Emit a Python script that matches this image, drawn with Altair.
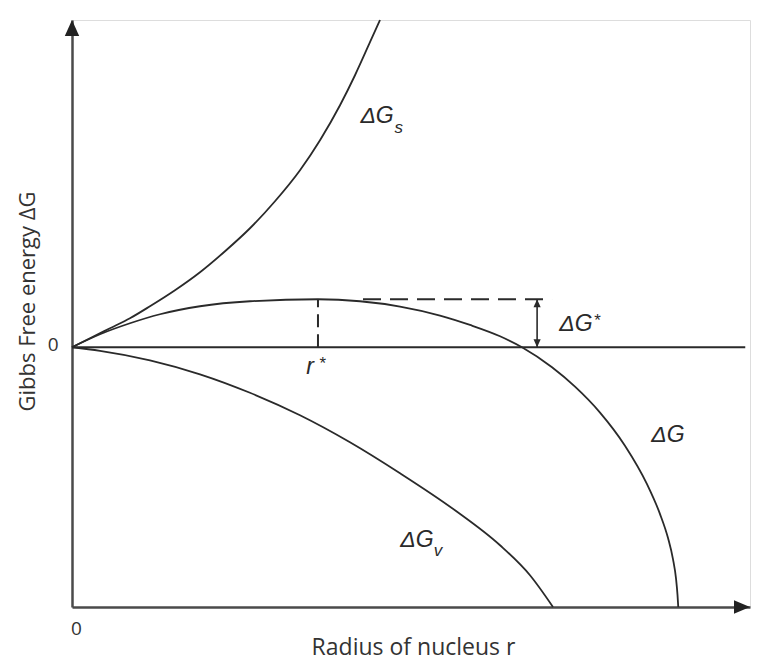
import altair as alt
import pandas as pd

# Radius of nucleus (arbitrary units) and free-energy values of each curve
gs_r = [0, 0.265, 0.560, 0.855, 1.150, 1.519, 1.888, 2.257, 2.625, 2.994, 3.363, 3.658, 3.953, 4.174, 4.395, 4.543]
gs_g = [0, 0.347, 0.732, 1.117, 1.579, 2.195, 2.888, 3.697, 4.582, 5.622, 6.816, 7.971, 9.318, 10.473, 11.744, 12.60]

g_r = [0, 0.413, 0.855, 1.298, 1.888, 2.625, 3.628, 4.248, 4.838, 5.428, 5.870, 6.313, 6.637,
       7.080, 7.419, 7.788, 8.156, 8.481, 8.673, 8.791, 8.864, 8.909, 8.931, 8.942]
g_g = [0, 0.501, 0.924, 1.271, 1.579, 1.771, 1.848, 1.771, 1.567, 1.221, 0.859, 0.424, 0,
       -0.770, -1.517, -2.514, -3.789, -5.271, -6.423, -7.347, -8.155, -8.906, -9.542, -10.0]

gv_r = [0, 0.413, 1.150, 1.888, 2.625, 3.363, 4.100, 4.838, 5.649, 6.313, 6.755, 7.094]
gv_g = [0, -0.135, -0.501, -1.040, -1.752, -2.618, -3.658, -4.851, -6.276, -7.624, -8.779, -10.0]

# critical radius and barrier height (maximum of the ΔG curve)
R_STAR = 3.628
G_STAR = 1.848

R_MAX = 10.0
G_MIN, G_MAX = -10.0, 12.6
ZERO_LINE_END = 9.93
BARRIER_LINE = [4.292, 7.08]
BARRIER_ARROW_R = 6.86

# annotation labels
lab_text = ["ΔG", "ΔG", "r", "ΔG", "ΔG"]
lab_r = [4.499, 7.434, 3.510, 8.791, 5.088]
lab_g = [8.895, 0.886, -0.770, -3.388, -7.431]
sub_text = ["s", "*", "*", "v"]
sub_r = [4.82, 7.740, 3.690, 5.400]
sub_g = [8.45, 1.02, -0.66, -7.85]

INK = "#2a2a2a"
AXIS_INK = "#4a4a4a"

curves = pd.concat([
    pd.DataFrame({"r": gs_r, "g": gs_g, "curve": "Gs", "i": range(len(gs_r))}),
    pd.DataFrame({"r": g_r, "g": g_g, "curve": "G", "i": range(len(g_r))}),
    pd.DataFrame({"r": gv_r, "g": gv_g, "curve": "Gv", "i": range(len(gv_r))}),
])

xscale = alt.Scale(domain=[0, R_MAX], nice=False, zero=False)
yscale = alt.Scale(domain=[G_MIN, G_MAX], nice=False, zero=False)

xaxis = alt.Axis(values=[0], format="d", ticks=False, grid=False,
                 domainColor=AXIS_INK, domainWidth=2.5,
                 labelFont="Open Sans", labelFontSize=19, labelColor="#333",
                 labelPadding=12, labelOffset=4, labelFlush=False,
                 titleFont="Open Sans", titleFontSize=23, titleFontWeight="normal",
                 titleColor="#333", titleX=341, titleY=47,
                 titleAlign="center", titleBaseline="alphabetic")
yaxis = alt.Axis(values=[0], format="d", ticks=False, grid=False,
                 domainColor=AXIS_INK, domainWidth=2.5,
                 labelFont="Open Sans", labelFontSize=19, labelColor="#333",
                 labelPadding=14, labelOffset=-3, labelFlush=False,
                 titleFont="Open Sans", titleFontSize=22, titleFontWeight="normal",
                 titleColor="#333", titleX=-38, titleY=281, titleAngle=270,
                 titleAlign="center", titleBaseline="alphabetic")


def X(field="r"):
    return alt.X(f"{field}:Q", scale=xscale, axis=xaxis, title="Radius of nucleus r")


def Y(field="g"):
    return alt.Y(f"{field}:Q", scale=yscale, axis=yaxis, title="Gibbs Free energy ΔG")


lines = alt.Chart(curves).mark_line(color=INK, strokeWidth=1.8, interpolate="monotone").encode(
    x=X(), y=Y(), detail="curve:N", order="i:Q"
)

zero_line = alt.Chart(pd.DataFrame({"r": [0], "r2": [ZERO_LINE_END], "g": [0]})).mark_rule(
    color=INK, strokeWidth=2
).encode(x=X(), x2="r2:Q", y=Y())

r_star_line = alt.Chart(pd.DataFrame({"r": [R_STAR], "g": [0], "g2": [G_STAR]})).mark_rule(
    color=INK, strokeWidth=2, strokeDash=[13, 7]
).encode(x=X(), y=Y(), y2="g2:Q")

barrier_line = alt.Chart(pd.DataFrame({"r": [BARRIER_LINE[0]], "r2": [BARRIER_LINE[1]], "g": [G_STAR]})).mark_rule(
    color=INK, strokeWidth=2, strokeDash=[18, 9]
).encode(x=X(), x2="r2:Q", y=Y())

barrier_arrow = alt.Chart(pd.DataFrame({"r": [BARRIER_ARROW_R], "g": [0], "g2": [G_STAR]})).mark_rule(
    color=INK, strokeWidth=1.6
).encode(x=X(), y=Y(), y2="g2:Q")

UP = "M0,0L0.45,1L-0.45,1Z"
DOWN = "M0,0L0.45,-1L-0.45,-1Z"
RIGHT = "M0,0L-1,-0.42L-1,0.42Z"

barrier_up = alt.Chart(pd.DataFrame({"r": [BARRIER_ARROW_R], "g": [G_STAR]})).mark_point(
    shape=UP, filled=True, size=256, color=INK, opacity=1
).encode(x=X(), y=Y())
barrier_down = alt.Chart(pd.DataFrame({"r": [BARRIER_ARROW_R], "g": [0]})).mark_point(
    shape=DOWN, filled=True, size=256, color=INK, opacity=1
).encode(x=X(), y=Y())

y_arrow = alt.Chart(pd.DataFrame({"r": [0], "g": [G_MAX]})).mark_point(
    shape=UP, filled=True, size=1024, color="#222", opacity=1
).encode(x=X(), y=Y())
x_arrow = alt.Chart(pd.DataFrame({"r": [R_MAX], "g": [G_MIN]})).mark_point(
    shape=RIGHT, filled=True, size=1024, color="#222", opacity=1
).encode(x=X(), y=Y())

labels = alt.Chart(pd.DataFrame({"r": lab_r, "g": lab_g, "t": lab_text})).mark_text(
    font="Liberation Sans", fontStyle="italic", fontSize=23, color=INK,
    align="center", baseline="middle"
).encode(x=X(), y=Y(), text="t:N")

subs = alt.Chart(pd.DataFrame({"r": sub_r, "g": sub_g, "t": sub_text})).mark_text(
    font="Liberation Sans", fontStyle="italic", fontSize=17, color=INK,
    align="center", baseline="middle"
).encode(x=X(), y=Y(), text="t:N")

chart = alt.layer(
    zero_line, r_star_line, barrier_line, barrier_arrow, barrier_up, barrier_down,
    lines, y_arrow, x_arrow, labels, subs
).properties(
    width=678, height=587,
    padding={"left": 72, "top": 20, "right": 7, "bottom": 55},
    autosize=alt.AutoSizeParams(type="none"),
).configure_view(stroke=None).configure(background="white")

chart.save("out.html", embed_options={"renderer": "svg", "actions": False})
